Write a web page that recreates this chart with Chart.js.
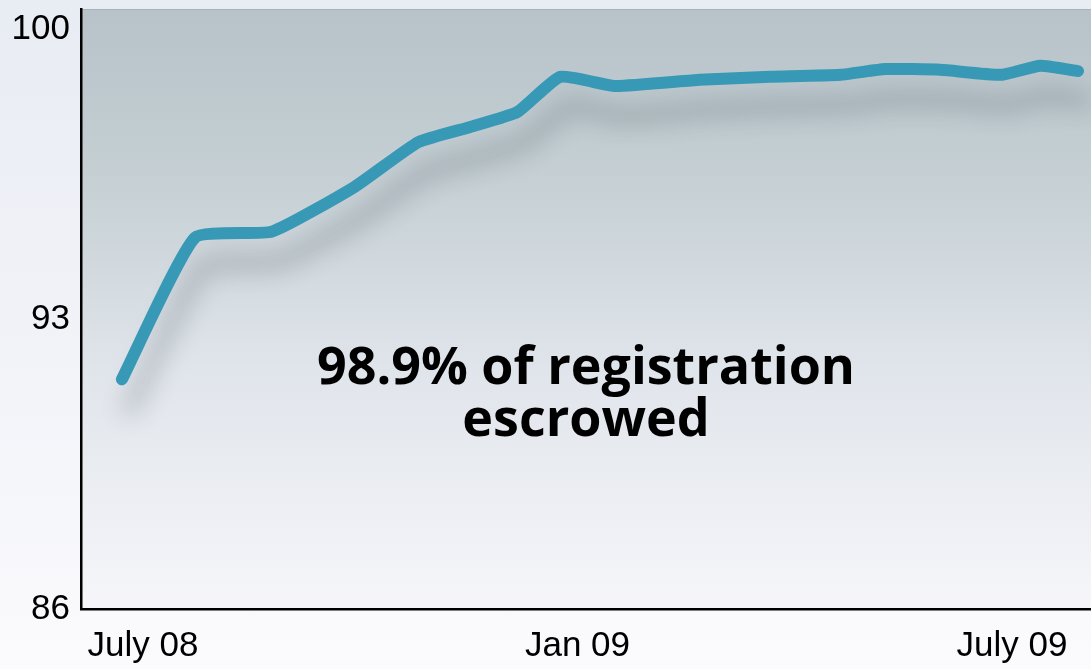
<!DOCTYPE html>
<html lang="en">
<head>
    <meta charset="UTF-8">
    <title>Registration escrowed</title>
    <script src="https://cdn.jsdelivr.net/npm/chart.js"></script>
    <style>
        html, body { margin: 0; padding: 0; }
        body {
            width: 1091px; height: 669px; overflow: hidden;
            background: linear-gradient(to bottom, #e8ecf3 0%, #f3f4f9 60%, #fbfbfd 100%);
        }
        canvas { display: block; }
    </style>
</head>
<body>
    <canvas id="escrowChart" width="1091" height="669"></canvas>

    <script>
        // months counted from July 2008
        const months = [-0.29, 0.72, 1.78, 2.93, 3.80, 4.52, 5.17, 5.76, 6.52, 7.69, 8.66, 9.63, 10.25, 11.01, 11.85, 12.39, 12.91];
        const escrowed = [91.55, 94.98, 95.12, 96.21, 97.28, 97.65, 98.01, 98.86, 98.64, 98.79, 98.86, 98.91, 99.05, 99.03, 98.91, 99.13, 99.0];
        const tickMonths = [0, 6, 12];
        const tickLabels = ['July 08', 'Jan 09', 'July 09'];
        const yTicks = [86, 93, 100];
        const note = ['98.9% of registration', 'escrowed'];

        const points = months.map((m, i) => ({ x: m, y: escrowed[i] }));

        // gray-blue fill behind the plot
        const plotBackground = {
            id: 'plotBackground',
            beforeDraw(chart) {
                const { ctx, chartArea: a } = chart;
                const g = ctx.createLinearGradient(0, a.top, 0, a.bottom);
                g.addColorStop(0, '#b7c3c9');
                g.addColorStop(0.3, '#c6d0d5');
                g.addColorStop(0.6, '#e0e5eb');
                g.addColorStop(1, '#f6f6fa');
                ctx.save();
                ctx.fillStyle = g;
                ctx.fillRect(a.left, a.top, a.right - a.left, a.bottom - a.top);
                ctx.strokeStyle = '#a7b1b7';
                ctx.lineWidth = 1;
                ctx.beginPath();
                ctx.moveTo(a.left, a.top + 0.5);
                ctx.lineTo(a.right, a.top + 0.5);
                ctx.stroke();
                ctx.restore();
            }
        };

        // soft shadow under the tube, small highlight on top of it
        const tubeEffect = {
            id: 'tubeEffect',
            beforeDatasetDraw(chart, args) {
                const ctx = chart.ctx;
                ctx.save();
                if (args.index === 0) {
                    ctx.shadowColor = 'rgba(50, 60, 70, 0.32)';
                    ctx.shadowBlur = 24;
                    ctx.shadowOffsetX = 8;
                    ctx.shadowOffsetY = 30;
                } else {
                    ctx.translate(0, -2);
                }
            },
            afterDatasetDraw(chart) {
                chart.ctx.restore();
            }
        };

        const noteText = {
            id: 'noteText',
            afterDraw(chart) {
                const { ctx, chartArea: a } = chart;
                const cx = (a.left + a.right) / 2;
                ctx.save();
                ctx.fillStyle = '#000';
                ctx.font = 'bold 52px "Open Sans", sans-serif';
                ctx.textAlign = 'center';
                ctx.textBaseline = 'alphabetic';
                ctx.fillText(note[0], cx, 384);
                ctx.fillText(note[1], cx, 436);
                ctx.restore();
            }
        };

        const tickFont = { family: '"Liberation Sans", Arial, sans-serif', size: 35 };

        new Chart(document.getElementById('escrowChart'), {
            type: 'line',
            data: {
                datasets: [{
                    data: points,
                    borderColor: '#3799b6',
                    borderWidth: 12,
                    borderCapStyle: 'round',
                    borderJoinStyle: 'round',
                    tension: 0.15,
                    pointRadius: 0,
                    fill: false
                }, {
                    data: points,
                    borderColor: 'rgba(110, 196, 220, 0.75)',
                    borderWidth: 4,
                    borderCapStyle: 'round',
                    borderJoinStyle: 'round',
                    tension: 0.15,
                    pointRadius: 0,
                    fill: false
                }]
            },
            options: {
                responsive: false,
                animation: false,
                layout: { padding: { top: 9, left: 0, right: 0, bottom: 0 } },
                plugins: {
                    legend: { display: false },
                    tooltip: { enabled: false }
                },
                scales: {
                    x: {
                        type: 'linear',
                        min: -0.855,
                        max: 13.09,
                        grid: { display: false },
                        border: { display: true, color: '#000', width: 2.5 },
                        afterBuildTicks: axis => { axis.ticks = tickMonths.map(v => ({ value: v })); },
                        afterFit: axis => {
                            axis.height = 60;
                            axis.paddingLeft = 0;
                            axis.paddingRight = 0;
                        },
                        ticks: {
                            autoSkip: false,
                            maxRotation: 0,
                            padding: 8,
                            color: '#000',
                            font: tickFont,
                            callback: (v) => tickLabels[tickMonths.indexOf(v)]
                        }
                    },
                    y: {
                        min: 86,
                        max: 100.5,
                        grid: { display: false },
                        border: { display: true, color: '#000', width: 2.5 },
                        afterBuildTicks: axis => { axis.ticks = yTicks.map(v => ({ value: v })); },
                        afterFit: axis => {
                            axis.width = 81;
                            axis.paddingTop = 0;
                            axis.paddingBottom = 0;
                        },
                        ticks: {
                            padding: 3,
                            color: '#000',
                            font: tickFont
                        }
                    }
                }
            },
            plugins: [plotBackground, tubeEffect, noteText]
        });
    </script>
</body>
</html>
